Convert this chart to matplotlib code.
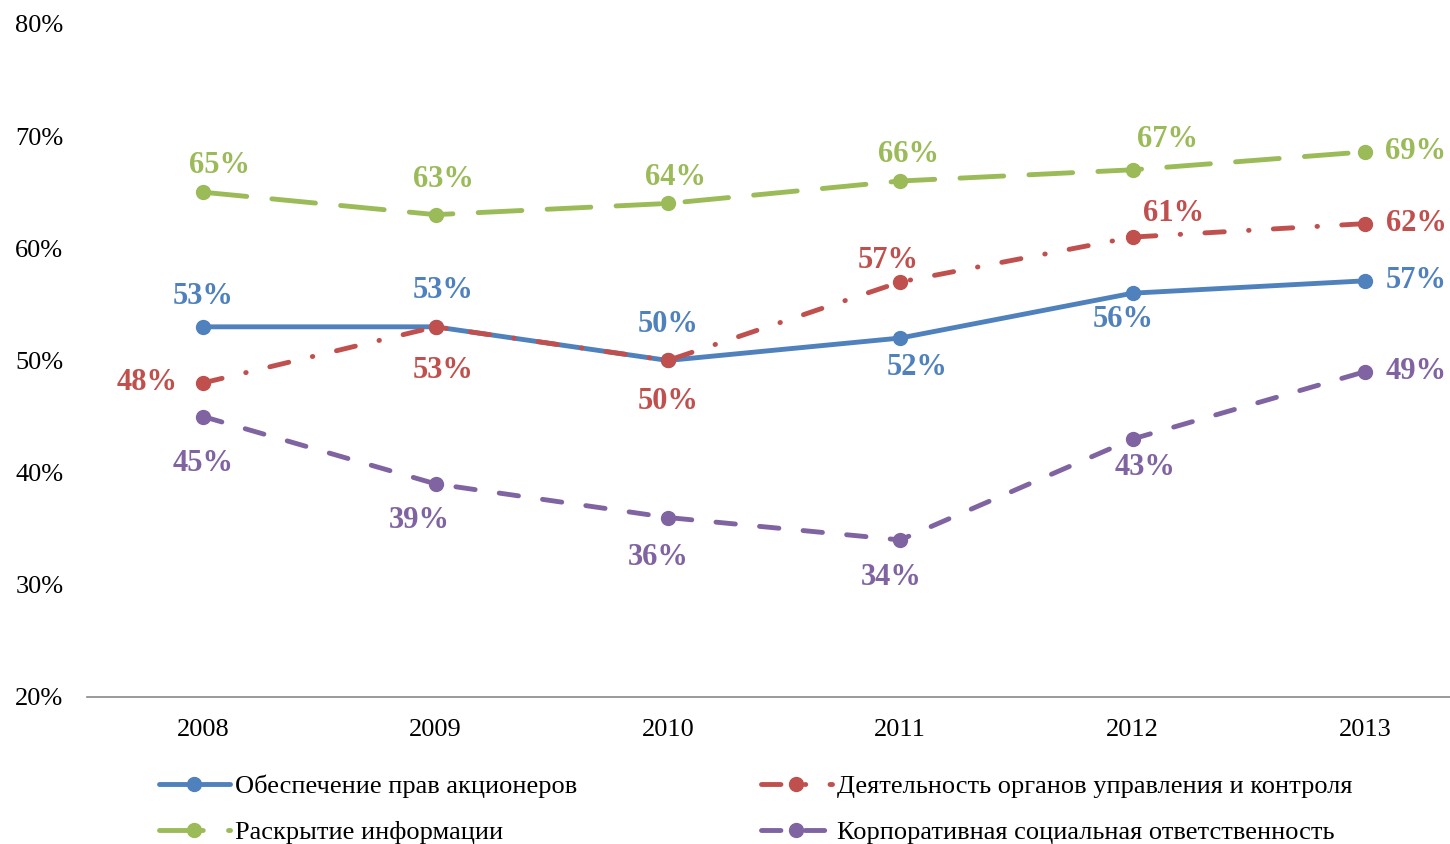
"""Corporate governance index components, 2008-2013."""

import matplotlib

matplotlib.use("Agg")
import matplotlib.pyplot as plt
from matplotlib.ticker import FuncFormatter, MultipleLocator

plt.rcParams["font.family"] = ["Liberation Serif", "DejaVu Serif"]

YEARS = ["2008", "2009", "2010", "2011", "2012", "2013"]

SHAREHOLDER_RIGHTS = [53, 53, 50, 52, 56, 57.1]
MANAGEMENT_BODIES = [48, 53, 50, 57, 61, 62.2]
DISCLOSURE = [65, 63, 64, 66, 67, 68.6]
CSR = [45, 39, 36, 34, 43, 49]

NAMES = [
    "Обеспечение прав акционеров",
    "Деятельность органов управления и контроля",
    "Раскрытие информации",
    "Корпоративная социальная ответственность",
]

BLUE = "#4F81BD"
RED = "#C0504D"
GREEN = "#9BBB59"
PURPLE = "#8064A2"

# label offsets from the marker, in pixels (x right, y up)
LABEL_OFFSETS = {
    "blue": [(0, 30), (8, 36), (0, 36), (17, -29), (-9, -26), (51, 0)],
    "red": [(-56, 0), (8, -44), (0, -41), (-12, 21), (41, 24), (51, 0)],
    "green": [(16, 27), (8, 35), (8, 26), (8, 27), (35, 30), (51, 0)],
    "purple": [(0, -47), (-16, -37), (-10, -40), (-9, -38), (12, -29), (51, 0)],
}


def main() -> None:
    fig = plt.figure(figsize=(14.5, 8.44), dpi=100)
    ax = fig.add_axes([0.06, 0.1742, 0.94, 0.7974])
    x = range(len(YEARS))

    series = [
        ("blue", SHAREHOLDER_RIGHTS, BLUE, "-"),
        ("red", MANAGEMENT_BODIES, RED, (0, (4.0, 5.0, 0.1, 5.0))),
        ("green", DISCLOSURE, GREEN, (0, (9.0, 5.2))),
        ("purple", CSR, PURPLE, (0, (4.0, 5.0))),
    ]
    handles = []
    for (key, values, color, style), name in zip(series, NAMES):
        (line,) = ax.plot(
            x,
            values,
            color=color,
            linestyle=style,
            linewidth=3.5,
            marker="o",
            markersize=10,
            dash_capstyle="round",
            solid_capstyle="round",
            label=name,
        )
        handles.append(line)
        for xi, value, offset in zip(x, values, LABEL_OFFSETS[key]):
            ax.annotate(
                f"{round(value)}%",
                (xi, value),
                xytext=offset,
                textcoords="offset pixels",
                ha="center",
                va="center",
                fontsize=22,
                fontweight="bold",
                color=color,
            )

    ax.set_xlim(-0.5, 5.366)
    ax.set_ylim(20, 80)
    ax.yaxis.set_major_locator(MultipleLocator(10))
    ax.yaxis.set_major_formatter(FuncFormatter(lambda v, _p: f"{v:.0f}%"))
    ax.set_xticks(list(x))
    ax.set_xticklabels(YEARS)
    ax.tick_params(axis="both", length=0, labelsize=19)
    ax.tick_params(axis="y", pad=17)
    ax.tick_params(axis="x", pad=16)
    for side in ("top", "right", "left"):
        ax.spines[side].set_visible(False)
    ax.spines["bottom"].set_color("#898989")
    ax.spines["bottom"].set_linewidth(1.2)

    # legend order: row 1 blue, red; row 2 green, purple
    order = [handles[0], handles[2], handles[1], handles[3]]
    fig.legend(
        order,
        [h.get_label() for h in order],
        loc="center left",
        bbox_to_anchor=(0.093, 0.0408),
        ncol=2,
        frameon=False,
        fontsize=19,
        handlelength=2.7,
        handletextpad=0.2,
        columnspacing=6.95,
        labelspacing=0.84,
    )

    fig.savefig("out.png", dpi=100)
    plt.close(fig)


if __name__ == "__main__":
    main()
